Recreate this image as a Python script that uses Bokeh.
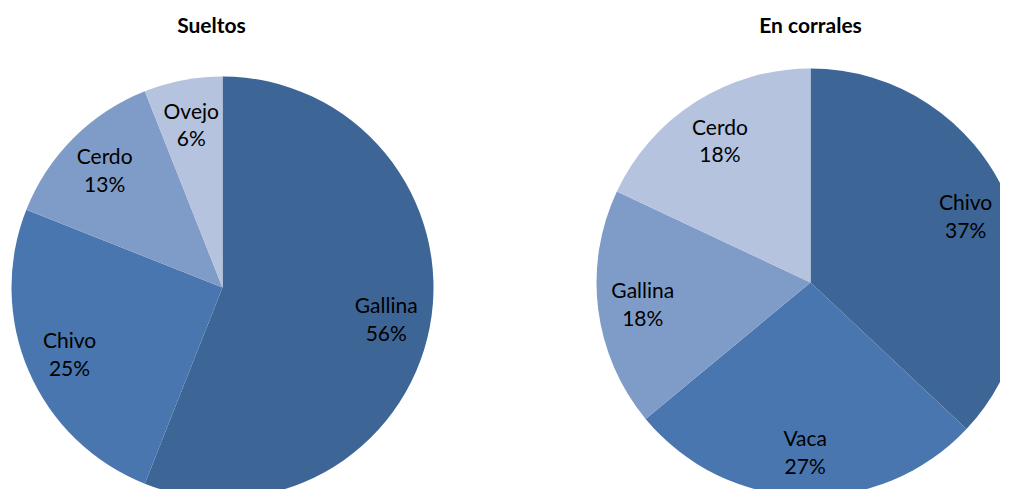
import math
from bokeh.plotting import figure
from bokeh.models import Range1d, ColumnDataSource
from bokeh.core.properties import value
from bokeh.embed import file_html
from bokeh.resources import INLINE

# ---- data ----
sueltos_labels = ["Gallina", "Chivo", "Cerdo", "Ovejo"]
sueltos_values = [56, 25, 13, 6]
corrales_labels = ["Chivo", "Vaca", "Gallina", "Cerdo"]
corrales_values = [37, 27, 18, 18]
titles = ["Sueltos", "En corrales"]

colors = ["#3D6596", "#4976AE", "#7F9CC8", "#B5C3DE"]

W, H = 1000, 489
p = figure(width=W, height=H, output_backend="svg", toolbar_location=None,
           x_range=Range1d(0, W), y_range=Range1d(0, H), min_border=0)
p.axis.visible = False
p.grid.visible = False
p.outline_line_color = None
p.background_fill_color = "white"

FONT = "Lato"

def pie(cx, cy, r, labels, vals, title, title_x):
    total = float(sum(vals))
    starts, ends, lx, ly, txt = [], [], [], [], []
    cum = 0.0
    for lab, v in zip(labels, vals):
        f0 = cum / total
        cum += v
        f1 = cum / total
        a0 = math.pi / 2 - 2 * math.pi * f0
        a1 = math.pi / 2 - 2 * math.pi * f1
        starts.append(a0)
        ends.append(a1)
        mid = (a0 + a1) / 2
        lx.append(cx + 0.79 * r * math.cos(mid))
        ly.append(cy + 0.79 * r * math.sin(mid))
        txt.append(f"{lab}\n{round(100 * v / total)}%")
    src = ColumnDataSource(dict(start=starts, end=ends, color=colors[:len(vals)]))
    p.wedge(x=cx, y=cy, radius=r, start_angle="start", end_angle="end",
            direction="clock", fill_color="color", line_color=None, source=src)
    p.text(x=lx, y=ly, text=txt, text_align="center", text_baseline="middle",
           text_font=value(FONT), text_font_size="21px", text_color="#000000",
           text_line_height=1.1)
    p.text(x=[title_x], y=[465], text=[title], text_align="center",
           text_baseline="middle", text_font=value(FONT), text_font_size="21px",
           text_font_style="bold", text_color="#000000")

pie(222, 202, 211, sueltos_labels, sueltos_values, titles[0], 211)
pie(810, 207, 214, corrales_labels, corrales_values, titles[1], 810)

open("out.html", "w").write(file_html(p, INLINE))
